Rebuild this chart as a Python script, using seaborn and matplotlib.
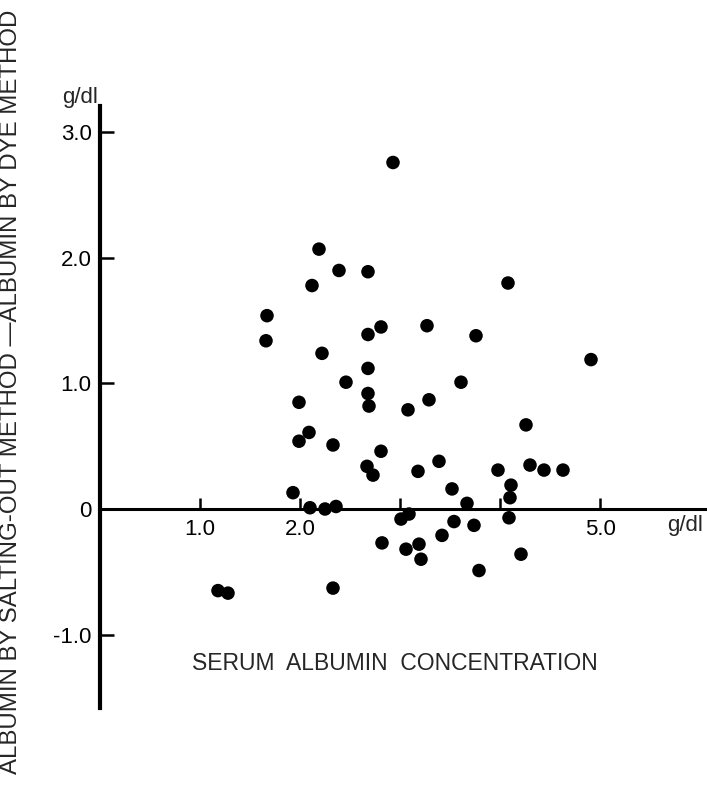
import seaborn as sns
import matplotlib.pyplot as plt
import pandas as pd

# serum albumin (g/dl) vs difference salting-out minus dye (g/dl)
albumin = [2.93, 2.19, 2.39, 2.68, 2.12, 1.67, 1.66, 2.81, 2.68, 4.08,
           3.27, 3.76, 2.22, 2.68, 2.46, 2.68, 2.69, 1.99, 2.09, 1.99,
           2.33, 2.81, 2.67, 2.73, 1.93, 2.10, 2.25, 2.36, 4.91, 3.61,
           3.29, 3.08, 4.26, 3.39, 3.18, 3.98, 4.30, 4.44, 4.63, 4.11,
           3.52, 4.10, 3.67, 3.01, 3.09, 3.54, 3.74, 4.09, 3.42, 3.06,
           3.19, 3.21, 3.79, 4.21, 2.82, 1.18, 1.28, 2.33]
difference = [2.76, 2.07, 1.90, 1.89, 1.78, 1.54, 1.34, 1.45, 1.39, 1.80,
              1.46, 1.38, 1.24, 1.12, 1.01, 0.92, 0.82, 0.85, 0.61, 0.54,
              0.51, 0.46, 0.34, 0.27, 0.13, 0.01, 0.00, 0.02, 1.19, 1.01,
              0.87, 0.79, 0.67, 0.38, 0.30, 0.31, 0.35, 0.31, 0.31, 0.19,
              0.16, 0.09, 0.045, -0.08, -0.04, -0.10, -0.13, -0.07, -0.21, -0.32,
              -0.28, -0.40, -0.49, -0.36, -0.27, -0.65, -0.67, -0.63]

x_ticks = [1, 2, 3, 4, 5]
x_labels = ["1.0", "2.0", "", "", "5.0"]
y_ticks = [3, 2, 1, 0, -1]
y_labels = ["3.0", "2.0", "1.0", "0", "-1.0"]

df = pd.DataFrame({"albumin": albumin, "difference": difference})

sns.set_style("white")
plt.rcParams["font.family"] = ["Liberation Sans", "DejaVu Sans"]

W, H = 707, 801
fig = plt.figure(figsize=(W / 100, H / 100), dpi=100)
ax = fig.add_axes([100 / W, 1 - 708 / H, 607 / W, (708 - 106) / H])

sns.scatterplot(data=df, x="albumin", y="difference", ax=ax,
                color="black", s=95, edgecolor="none", legend=False)

ax.set_xlim(0, 6.07)
ax.set_ylim(-1.585, 3.21)

for side in ["top", "right"]:
    ax.spines[side].set_visible(False)
ax.spines["left"].set_linewidth(3.0)
ax.spines["left"].set_color("black")
ax.spines["bottom"].set_position(("data", 0))
ax.spines["bottom"].set_linewidth(2.2)
ax.spines["bottom"].set_color("black")

ax.set_xticks(x_ticks)
ax.set_xticklabels(x_labels)
ax.set_yticks(y_ticks)
ax.set_yticklabels(y_labels)
ax.tick_params(axis="x", bottom=True, direction="in", length=8, width=1.8,
               pad=7, labelsize=16, colors="black")
ax.tick_params(axis="y", left=True, direction="in", length=10, width=1.8,
               pad=6, labelsize=16, colors="black")
ax.set_xlabel("")
ax.set_ylabel("")

fig.text(685 / W, 1 - 525 / H, "g/dl", ha="center", va="center", fontsize=16)
fig.text(80 / W, 1 - 97 / H, "g/dl", ha="center", va="center", fontsize=16)
fig.text(395 / W, 1 - 663 / H, "SERUM  ALBUMIN  CONCENTRATION",
         ha="center", va="center", fontsize=16.5)
fig.text(11 / W, 1 - 392 / H,
         "ALBUMIN BY SALTING-OUT METHOD \u2014ALBUMIN BY DYE METHOD",
         ha="center", va="center", rotation=90, fontsize=17.3)

fig.savefig("out.png", dpi=100, facecolor="white")
